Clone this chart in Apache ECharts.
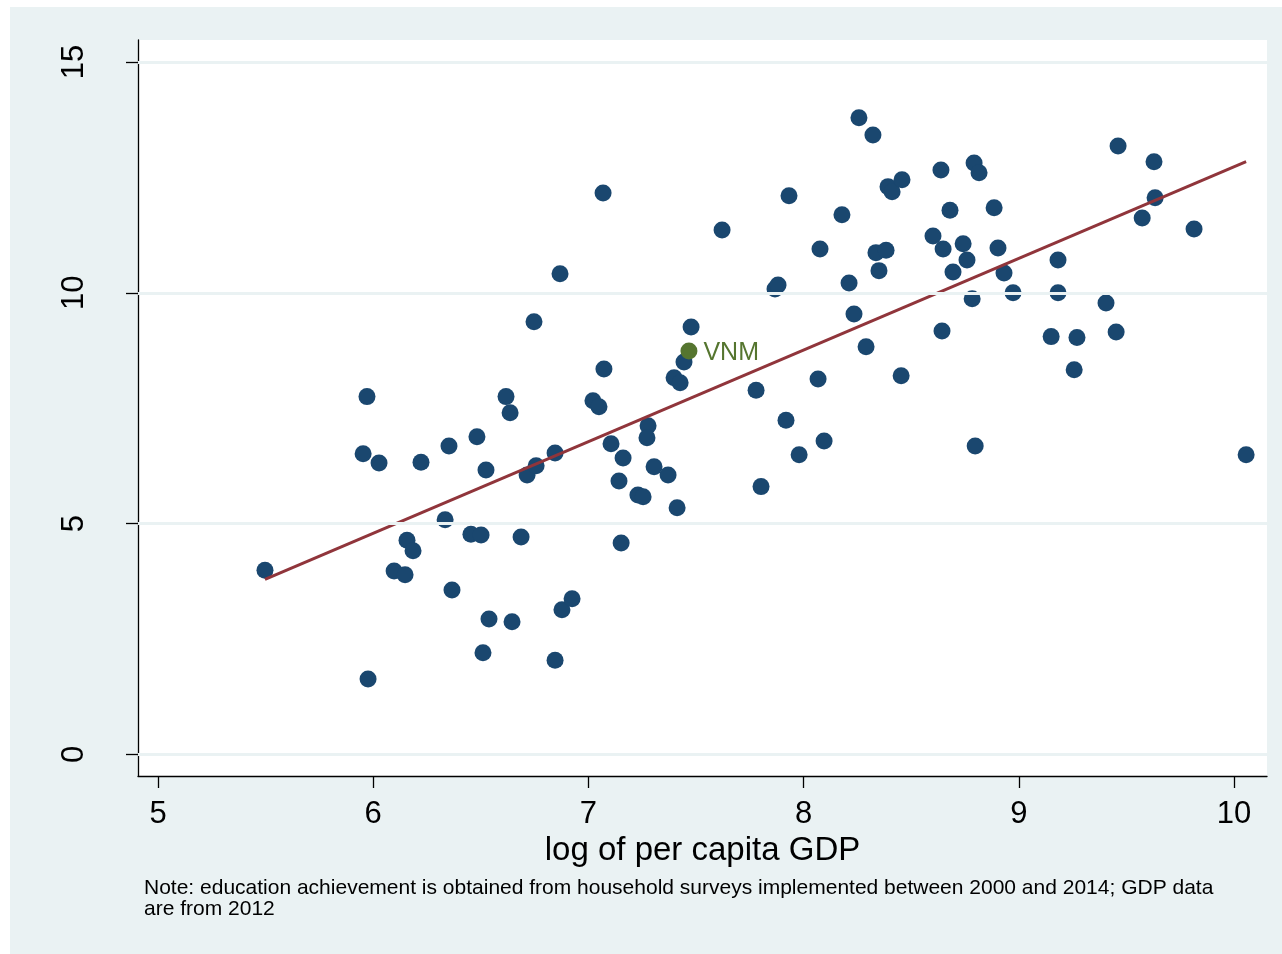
<!DOCTYPE html>
<html>
<head>
<meta charset="utf-8">
<script src="https://cdn.jsdelivr.net/npm/echarts@6/dist/echarts.min.js"></script>
<style>
html,body{margin:0;padding:0;background:#fff;}
#chart{width:1282px;height:954px;}
</style>
</head>
<body>
<div id="chart"></div>
<script>
// Data
var gdpLog = [5.497,5.953,5.971,6.027,5.976,6.097,6.148,6.157,6.185,6.222,6.334,6.352,6.366,6.482,6.454,6.501,6.524,6.538,6.510,6.617,6.636,6.645,6.687,6.715,6.747,6.757,6.845,6.845,6.868,6.877,6.924,7.021,7.049,7.068,7.072,7.105,7.142,7.161,7.152,7.230,7.254,7.277,7.272,7.305,7.370,7.412,7.398,7.426,7.444,7.477,7.621,7.779,7.802,7.867,7.881,7.932,7.918,7.979,8.067,8.076,8.095,8.178,8.211,8.234,8.257,8.290,8.322,8.336,8.350,8.383,8.392,8.411,8.457,8.453,8.601,8.638,8.648,8.643,8.680,8.694,8.741,8.759,8.792,8.815,8.783,8.797,8.885,8.903,8.931,8.973,9.150,9.182,9.182,9.270,9.257,9.405,9.452,9.461,9.573,9.628,9.633,9.814,10.056];
var eduYears = [3.99,6.51,7.75,6.31,1.63,3.97,3.89,4.64,4.41,6.33,5.08,6.68,3.56,6.88,4.77,4.75,6.16,2.93,2.20,7.75,7.40,2.87,4.71,6.05,9.37,6.25,6.53,2.04,10.41,3.13,3.37,7.66,7.53,12.16,8.35,6.73,5.92,6.42,4.58,5.62,5.58,7.12,6.86,6.23,6.05,5.34,8.16,8.05,8.50,9.26,11.36,7.89,5.80,10.08,10.17,12.10,7.24,6.49,8.13,10.95,6.79,11.69,10.21,9.54,13.79,8.83,13.42,10.87,10.48,10.92,12.30,12.19,12.45,8.20,11.23,12.66,10.95,9.17,11.79,10.45,11.06,10.71,12.81,12.60,9.87,6.68,11.84,10.97,10.43,10.00,9.05,10.71,10.00,9.03,8.33,9.78,9.15,13.18,11.62,12.84,12.06,11.38,6.49];
var vnmName = "VNM";
var vnmX = 7.467;
var vnmY = 8.74;
var fitX = [5.497, 10.056];
var fitY = [3.79, 12.84];
var xTicks = [5, 6, 7, 8, 9, 10];
var yTicks = [0, 5, 10, 15];
var xTitle = "log of per capita GDP";
var noteLines = ["Note: education achievement is obtained from household surveys implemented between 2000 and 2014; GDP data", "are from 2012"];

var FONT = "'Liberation Sans', Arial, sans-serif";
var scatterData = gdpLog.map(function (x, i) { return [x, eduYears[i]]; });
var fitData = fitX.map(function (x, i) { return [x, fitY[i]]; });

var chart = echarts.init(document.getElementById('chart'), null, {renderer: 'canvas'});
chart.setOption({
  backgroundColor: '#eaf2f3',
  animation: false,
  textStyle: {fontFamily: FONT},
  graphic: [
    {type: 'rect', shape: {x: 0, y: 0, width: 1282, height: 7}, style: {fill: '#ffffff'}, silent: true},
    {type: 'rect', shape: {x: 0, y: 0, width: 10, height: 954}, style: {fill: '#ffffff'}, silent: true},
    {type: 'text', left: 144, top: 878, silent: true,
     style: {text: noteLines.join('\n'), font: "21px " + FONT, fill: '#000', lineHeight: 21}}
  ],
  grid: {left: 138, top: 40, right: 15, bottom: 178, show: true, backgroundColor: '#ffffff', borderWidth: 0},
  xAxis: {
    type: 'value', min: 4.907, max: 10.153,
    name: xTitle, nameLocation: 'middle', nameGap: 57,
    nameTextStyle: {fontSize: 33, color: '#000', fontFamily: FONT},
    axisLine: {onZero: false, lineStyle: {color: '#000', width: 1.3}},
    axisTick: {show: true, length: 12, customValues: xTicks, lineStyle: {color: '#000', width: 1.3}},
    axisLabel: {customValues: xTicks, fontSize: 31, color: '#000', margin: 23, fontFamily: FONT},
    splitLine: {show: false}
  },
  yAxis: {
    type: 'value', min: -0.47, max: 15.477,
    axisLine: {onZero: false, lineStyle: {color: '#000', width: 1.3}},
    axisTick: {show: true, length: 12, customValues: yTicks, lineStyle: {color: '#000', width: 1.3}},
    axisLabel: {customValues: yTicks, fontSize: 31, color: '#000', rotate: 90, margin: 48, fontFamily: FONT},
    splitLine: {show: false}
  },
  series: [
    {
      type: 'line', data: [], z: 1, silent: true,
      markLine: {
        silent: true, symbol: ['none', 'none'], label: {show: false},
        lineStyle: {color: '#eaf2f3', width: 3, type: 'solid'},
        data: yTicks.map(function (v) { return {yAxis: v}; })
      }
    },
    {
      type: 'scatter', data: scatterData, symbolSize: 17, z: 3,
      itemStyle: {color: '#1a476f', opacity: 1}
    },
    {
      type: 'line', data: fitData, z: 4, symbol: 'none',
      lineStyle: {color: '#90353b', width: 3}
    },
    {
      type: 'scatter', data: [[vnmX, vnmY]], symbolSize: 17, z: 5,
      itemStyle: {color: '#55752f', opacity: 1},
      label: {show: true, position: 'right', distance: 6, formatter: vnmName, color: '#55752f', fontSize: 25, fontFamily: FONT, offset: [0, 2]}
    }
  ]
});
</script>
</body>
</html>
